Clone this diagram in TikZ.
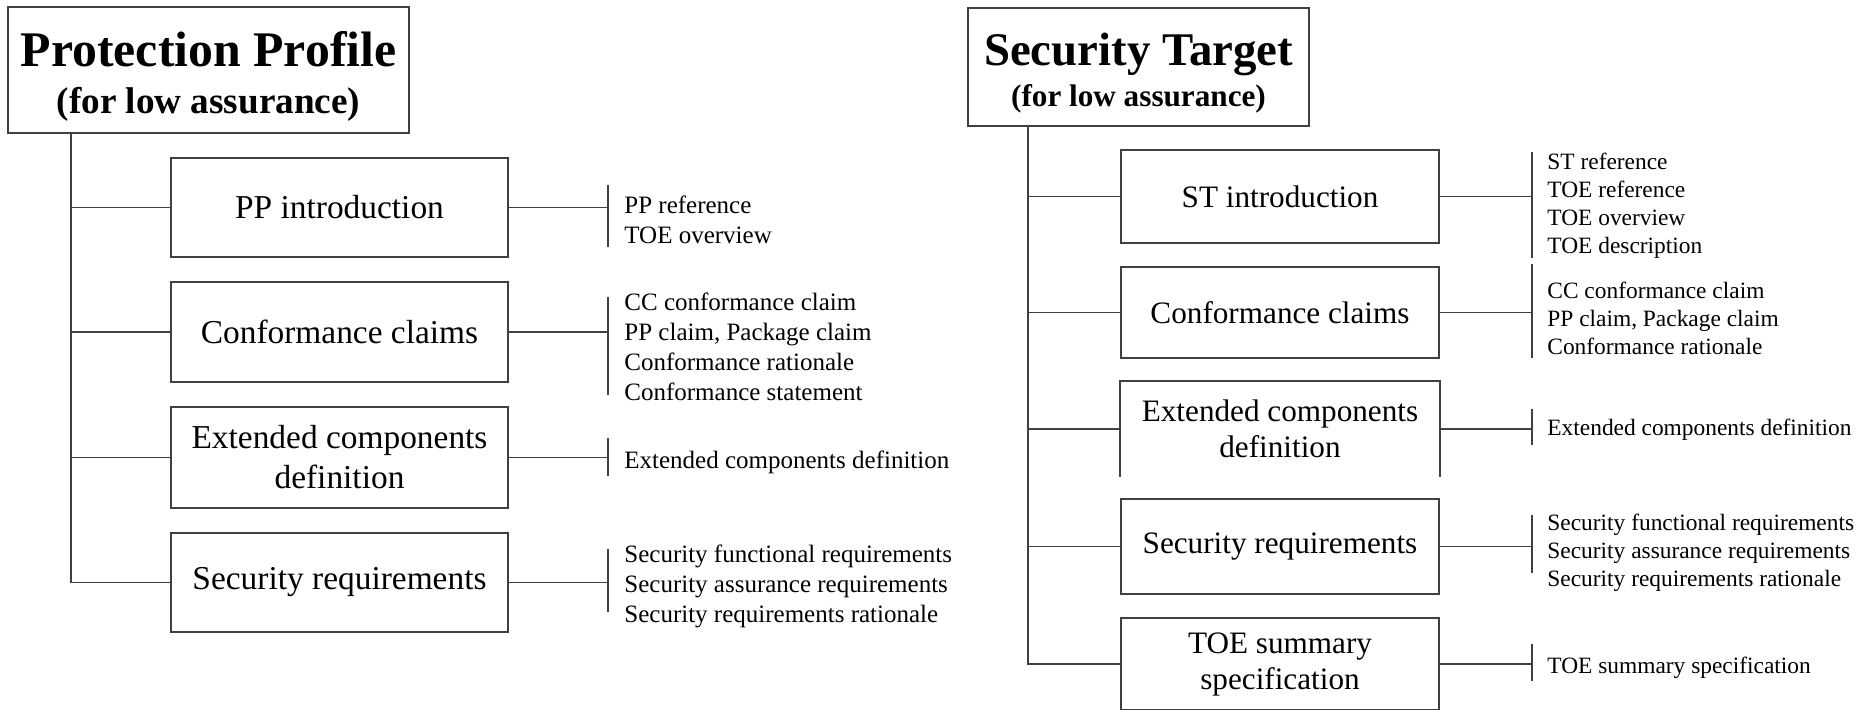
\documentclass[tikz,border=0pt]{standalone}
\usepackage{fontspec}
\setmainfont{Liberation Serif}
\usetikzlibrary{calc}
\begin{document}
\begin{tikzpicture}[x=0.5pt,y=-0.5pt,
  linecol/.style={draw=black!75},
  wire/.style={linecol,line width=0.9pt},
  titlebox/.style={wire,inner sep=0,align=center},
  lbox/.style={wire,inner sep=0,align=center,minimum width=168.5pt,
    font=\fontsize{16.7}{20}\selectfont},
  rbox/.style={wire,inner sep=0,align=center,minimum width=159pt,
    font=\fontsize{15.6}{18}\selectfont},
  ltext/.style={anchor=base west,inner sep=0,font=\fontsize{12.5}{15}\selectfont},
  rtext/.style={anchor=base west,inner sep=0,font=\fontsize{11.7}{14}\selectfont}]
\path[use as bounding box,fill=white] (0,0) rectangle (1867,709);

% ---------------- Protection Profile ----------------
\node[titlebox,minimum width=200.5pt,minimum height=63pt,
  font=\fontsize{18.6}{23.5}\selectfont\bfseries] (pp) at (208.5,70)
  {{\fontsize{24.9}{28}\selectfont\rule{0pt}{23.5pt}Protection Profile}\\(for low assurance)};

\node[lbox,minimum height=49.5pt] (ppintro) at (339.5,207.5) {PP introduction};
\node[lbox,minimum height=50pt]   (ppconf)  at (339.5,332)   {Conformance claims};
\node[lbox,minimum height=50.5pt] (ppext)   at (339.5,457.5) {Extended components\\definition};
\node[lbox,minimum height=49.5pt] (ppsec)   at (339.5,582.5) {Security requirements};

% trunk and branches
\coordinate (ppk) at (71,0);
\draw[wire] (ppk |- pp.south) |- (ppsec.west);
\foreach \b in {ppintro,ppconf,ppext}
  \draw[wire] (ppk |- \b.west) -- (\b.west);

% brackets on the right of each section
\coordinate (ppb) at (608,0);
\foreach \b/\t/\u in {ppintro/185/247,ppconf/297/395,ppext/438/476,ppsec/549/612}{
  \draw[wire] (\b.east) -- (\b.east -| ppb);
  \draw[wire] (ppb |- 0,\t) -- (ppb |- 0,\u);
}

\node[ltext] (ppintroL) at (624,213)
  {\begin{tabular}[t]{@{}l@{}}PP reference\\TOE overview\end{tabular}};
\node[ltext] (ppconfL) at (624,310)
  {\begin{tabular}[t]{@{}l@{}}CC conformance claim\\PP claim, Package claim\\Conformance rationale\\Conformance statement\end{tabular}};
\node[ltext] (ppextL) at (624,468) {Extended components definition};
\node[ltext] (ppsecL) at (624,562)
  {\begin{tabular}[t]{@{}l@{}}Security functional requirements\\Security assurance requirements\\Security requirements rationale\end{tabular}};

% ---------------- Security Target ----------------
\node[titlebox,minimum width=170.5pt,minimum height=59pt,
  font=\fontsize{15.6}{20.5}\selectfont\bfseries] (st) at (1138.5,67)
  {{\fontsize{23.4}{26}\selectfont\rule{0pt}{21.9pt}Security Target}\\(for low assurance)};

\node[rbox,minimum height=46.5pt] (stintro) at (1280,196.5) {ST introduction};
\node[rbox,minimum height=45.5pt] (stconf)  at (1280,312.5) {Conformance claims};
\node[rbox,draw=none,minimum height=47pt] (stext) at (1280,429) {Extended components\\definition};
\draw[wire] (stext.south west) -- (stext.north west) -- (stext.north east) -- (stext.south east);
\node[rbox,minimum height=47.5pt] (stsec)   at (1280,546.5) {Security requirements};
\node[rbox,minimum height=46pt]   (sttoe)   at (1280,664)   {TOE summary\\specification};

\coordinate (stk) at (1028,0);
\draw[wire] (stk |- st.south) |- (sttoe.west);
\foreach \b in {stintro,stconf,stext,stsec}
  \draw[wire] (stk |- \b.west) -- (\b.west);

\coordinate (stb) at (1532,0);
\foreach \b/\t/\u in {stintro/152/258,stconf/264/358,stext/409/445,stsec/515/573,sttoe/644/681}{
  \draw[wire] (\b.east) -- (\b.east -| stb);
  \draw[wire] (stb |- 0,\t) -- (stb |- 0,\u);
}

\node[rtext] (stintroL) at (1547,169)
  {\begin{tabular}[t]{@{}l@{}}ST reference\\TOE reference\\TOE overview\\TOE description\end{tabular}};
\node[rtext] (stconfL) at (1547,298)
  {\begin{tabular}[t]{@{}l@{}}CC conformance claim\\PP claim, Package claim\\Conformance rationale\end{tabular}};
\node[rtext] (stextL) at (1547,435) {Extended components definition};
\node[rtext] (stsecL) at (1547,530)
  {\begin{tabular}[t]{@{}l@{}}Security functional requirements\\Security assurance requirements\\Security requirements rationale\end{tabular}};
\node[rtext] (sttoeL) at (1547,673) {TOE summary specification};
\end{tikzpicture}
\end{document}
